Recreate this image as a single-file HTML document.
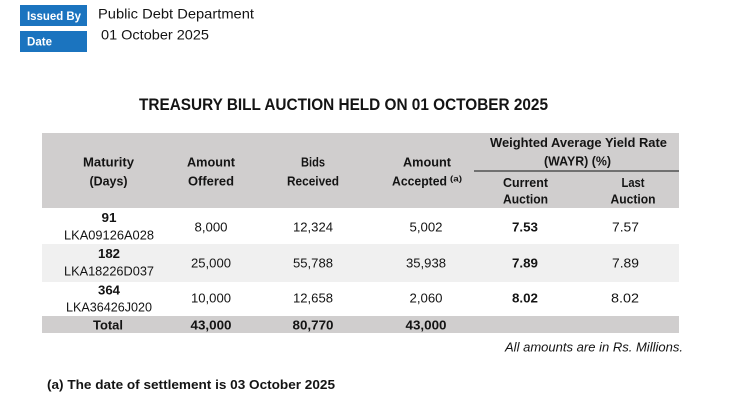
<!DOCTYPE html>
<html>
<head>
<meta charset="utf-8">
<style>
  html,body{margin:0;padding:0;background:#fff;}
  svg{display:block;}
  text{font-family:"Liberation Sans",Arial,sans-serif;fill:#141414;}
  .b{font-weight:bold;}
  .t{font-size:12.5px;}
</style>
</head>
<body>
<svg width="738" height="413" viewBox="0 0 738 413" xmlns="http://www.w3.org/2000/svg">
  <rect x="0" y="0" width="738" height="413" fill="#ffffff"/>

  <!-- top info -->
  <rect x="20" y="5" width="67" height="21" fill="#1b74bf"/>
  <rect x="20" y="31" width="67" height="21" fill="#1b74bf"/>
  <text x="27" y="20" class="b" style="font-size:12.4px;fill:#fff" textLength="54" lengthAdjust="spacingAndGlyphs">Issued By</text>
  <text x="27" y="45.5" class="b" style="font-size:12.4px;fill:#fff" textLength="25" lengthAdjust="spacingAndGlyphs">Date</text>
  <text x="98" y="18.5" style="font-size:14px" textLength="156" lengthAdjust="spacingAndGlyphs">Public Debt Department</text>
  <text x="101" y="39.5" style="font-size:14px" textLength="108" lengthAdjust="spacingAndGlyphs">01 October 2025</text>

  <!-- title -->
  <text x="139" y="110" class="b" style="font-size:16.3px" textLength="409" lengthAdjust="spacingAndGlyphs">TREASURY BILL AUCTION HELD ON 01 OCTOBER 2025</text>

  <!-- table backgrounds -->
  <rect x="42" y="133" width="637" height="75" fill="#d0cece"/>
  <rect x="42" y="244" width="637" height="38" fill="#f0f0f0"/>
  <rect x="42" y="316" width="637" height="17" fill="#d0cece"/>
  <line x1="474" y1="171" x2="679" y2="171" stroke="#111" stroke-width="1.1"/>

  <!-- header text -->
  <text x="83" y="166.5" class="b t" textLength="51" lengthAdjust="spacingAndGlyphs">Maturity</text>
  <text x="89.5" y="185.5" class="b t" textLength="38" lengthAdjust="spacingAndGlyphs">(Days)</text>
  <text x="187" y="166.5" class="b t" textLength="48" lengthAdjust="spacingAndGlyphs">Amount</text>
  <text x="188" y="185.5" class="b t" textLength="46" lengthAdjust="spacingAndGlyphs">Offered</text>
  <text x="301" y="166.5" class="b t" textLength="24" lengthAdjust="spacingAndGlyphs">Bids</text>
  <text x="287" y="185.5" class="b t" textLength="52" lengthAdjust="spacingAndGlyphs">Received</text>
  <text x="403" y="166.5" class="b t" textLength="48" lengthAdjust="spacingAndGlyphs">Amount</text>
  <text x="392" y="185.5" class="b t" textLength="55" lengthAdjust="spacingAndGlyphs">Accepted</text>
  <text x="450" y="181.5" class="b" style="font-size:8px" textLength="12" lengthAdjust="spacingAndGlyphs">(a)</text>
  <text x="490" y="147" class="b t" textLength="177" lengthAdjust="spacingAndGlyphs">Weighted Average Yield Rate</text>
  <text x="544" y="165.5" class="b t" textLength="67" lengthAdjust="spacingAndGlyphs">(WAYR) (%)</text>
  <text x="503" y="187" class="b t" textLength="45" lengthAdjust="spacingAndGlyphs">Current</text>
  <text x="503" y="203.5" class="b t" textLength="45" lengthAdjust="spacingAndGlyphs">Auction</text>
  <text x="621.5" y="187" class="b t" textLength="23" lengthAdjust="spacingAndGlyphs">Last</text>
  <text x="610.5" y="203.5" class="b t" textLength="45" lengthAdjust="spacingAndGlyphs">Auction</text>

  <!-- row 1 -->
  <text x="101.5" y="222" class="b t" textLength="15" lengthAdjust="spacingAndGlyphs">91</text>
  <text x="64" y="239.5" class="t" textLength="90" lengthAdjust="spacingAndGlyphs">LKA09126A028</text>
  <text x="194.5" y="231.5" class="t" textLength="33" lengthAdjust="spacingAndGlyphs">8,000</text>
  <text x="293" y="231.5" class="t" textLength="40" lengthAdjust="spacingAndGlyphs">12,324</text>
  <text x="409.5" y="231.5" class="t" textLength="33" lengthAdjust="spacingAndGlyphs">5,002</text>
  <text x="512" y="231.5" class="b t" textLength="26" lengthAdjust="spacingAndGlyphs">7.53</text>
  <text x="612" y="231.5" class="t" textLength="27" lengthAdjust="spacingAndGlyphs">7.57</text>

  <!-- row 2 -->
  <text x="98" y="258" class="b t" textLength="22" lengthAdjust="spacingAndGlyphs">182</text>
  <text x="64" y="275.5" class="t" textLength="90" lengthAdjust="spacingAndGlyphs">LKA18226D037</text>
  <text x="191" y="267.5" class="t" textLength="40" lengthAdjust="spacingAndGlyphs">25,000</text>
  <text x="293" y="267.5" class="t" textLength="40" lengthAdjust="spacingAndGlyphs">55,788</text>
  <text x="406" y="267.5" class="t" textLength="40" lengthAdjust="spacingAndGlyphs">35,938</text>
  <text x="512" y="267.5" class="b t" textLength="26" lengthAdjust="spacingAndGlyphs">7.89</text>
  <text x="612" y="267.5" class="t" textLength="27" lengthAdjust="spacingAndGlyphs">7.89</text>

  <!-- row 3 -->
  <text x="98" y="294.5" class="b t" textLength="22" lengthAdjust="spacingAndGlyphs">364</text>
  <text x="66" y="311.5" class="t" textLength="86" lengthAdjust="spacingAndGlyphs">LKA36426J020</text>
  <text x="191" y="302.5" class="t" textLength="40" lengthAdjust="spacingAndGlyphs">10,000</text>
  <text x="293" y="302.5" class="t" textLength="40" lengthAdjust="spacingAndGlyphs">12,658</text>
  <text x="409.5" y="302.5" class="t" textLength="33" lengthAdjust="spacingAndGlyphs">2,060</text>
  <text x="512" y="302.5" class="b t" textLength="26" lengthAdjust="spacingAndGlyphs">8.02</text>
  <text x="611" y="302.5" class="t" textLength="28" lengthAdjust="spacingAndGlyphs">8.02</text>

  <!-- total -->
  <text x="93" y="329.5" class="b t" textLength="30" lengthAdjust="spacingAndGlyphs">Total</text>
  <text x="190.5" y="329.5" class="b t" textLength="41" lengthAdjust="spacingAndGlyphs">43,000</text>
  <text x="292.5" y="329.5" class="b t" textLength="41" lengthAdjust="spacingAndGlyphs">80,770</text>
  <text x="405.5" y="329.5" class="b t" textLength="41" lengthAdjust="spacingAndGlyphs">43,000</text>

  <!-- notes -->
  <text x="505" y="351.5" class="t" style="font-style:italic" textLength="178" lengthAdjust="spacingAndGlyphs">All amounts are in Rs. Millions.</text>
  <text x="47" y="389" class="b t" textLength="288" lengthAdjust="spacingAndGlyphs">(a) The date of settlement is 03 October 2025</text>
</svg>
</body>
</html>
